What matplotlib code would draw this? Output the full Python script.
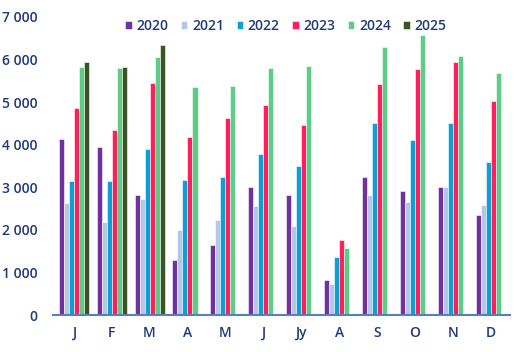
import numpy as np
import matplotlib.pyplot as plt

months = ['J', 'F', 'M', 'A', 'M', 'J', 'Jy', 'A', 'S', 'O', 'N', 'D']
years = ['2020', '2021', '2022', '2023', '2024', '2025']

v2020 = [4130, 3950, 2830, 1300, 1650, 3000, 2830, 820, 3230, 2920, 3010, 2350]
v2021 = [2630, 2180, 2730, 2000, 2230, 2570, 2080, 720, 2810, 2660, 3010, 2590]
v2022 = [3150, 3150, 3900, 3170, 3250, 3770, 3500, 1370, 4500, 4100, 4500, 3600]
v2023 = [4850, 4350, 5450, 4180, 4620, 4930, 4470, 1770, 5430, 5780, 5950, 5030]
v2024 = [5830, 5800, 6050, 5350, 5380, 5800, 5850, 1580, 6300, 6580, 6080, 5680]
v2025 = [5930, 5820, 6350]

series = [v2020, v2021, v2022, v2023, v2024, v2025]
colors = ['#7030A0', '#B4C7E7', '#0AA0D6', '#FF1F5B', '#5DCC86', '#375623']
navy = '#1F3A7A'

plt.rcParams['font.family'] = ['Open Sans', 'DejaVu Sans']

fig = plt.figure(figsize=(5.23, 3.52), dpi=100)
ax = fig.add_axes([0.101, 0.105, 0.874, 0.847])

x = np.arange(len(months))
w = 0.132
for i, (vals, c, yr) in enumerate(zip(series, colors, years)):
    xi = x[:len(vals)] + (i - 2.5) * w
    ax.bar(xi, vals, width=w, color=c, edgecolor='white', linewidth=0.4, label=yr)

ax.set_xlim(-0.55, 11.5)
ax.set_ylim(0, 7000)
ax.set_xticks(x)
ax.set_xticklabels(months)
yt = np.arange(0, 7001, 1000)
ax.set_yticks(yt)
ax.set_yticklabels(['0' if v == 0 else '{:,}'.format(v).replace(',', ' ') for v in yt])

for s in ['top', 'right', 'left']:
    ax.spines[s].set_visible(False)
ax.spines['bottom'].set_color('#5B7DB8')
ax.spines['bottom'].set_linewidth(1.5)
ax.tick_params(axis='both', length=0, colors=navy, labelsize=10)
ax.tick_params(axis='x', pad=8)
ax.tick_params(axis='y', pad=11)
for lab in ax.get_xticklabels() + ax.get_yticklabels():
    lab.set_fontweight('semibold')

leg = ax.legend(loc='upper center', bbox_to_anchor=(0.51, 1.035), ncol=6, frameon=False,
                handlelength=0.45, handleheight=0.45, handletextpad=0.35, columnspacing=0.9,
                fontsize=10)
for t in leg.get_texts():
    t.set_color(navy)
    t.set_fontweight('semibold')

fig.savefig('out.png', dpi=100)
